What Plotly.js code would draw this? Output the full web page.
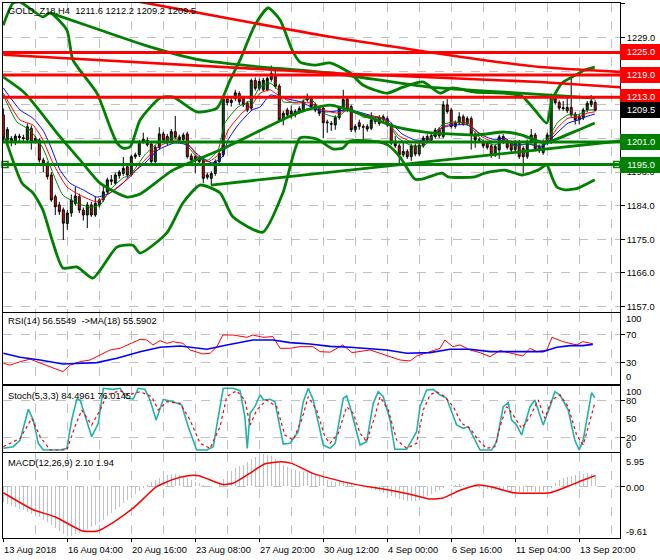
<!DOCTYPE html>
<html><head><meta charset="utf-8">
<script src="https://cdn.plot.ly/plotly-3.0.1.min.js"></script>
<style>html,body{margin:0;padding:0;background:#fff}#c{width:660px;height:560px}</style>
</head><body><div id="c"></div>
<script>
// ---------- DATA ----------
const symbol = 'GOLD_Z18,H4';
const openP = [1208.3,1201.5,1201.2,1201.1,1202.6,1202.2,1201.6,1204.7,1202.0,1201.6,
1196.2,1195.3,1192.2,1186.4,1184.2,1182.9,1179.2,1182.0,1184.6,1186.4,
1182.8,1181.5,1184.2,1181.5,1184.2,1185.5,1187.7,1190.5,1190.0,1192.0,
1192.6,1194.4,1192.2,1197.1,1197.6,1201.1,1201.5,1200.5,1195.8,1199.6,
1203.2,1202.5,1201.1,1203.8,1202.4,1201.7,1203.2,1197.3,1197.1,1196.7,
1196.2,1192.2,1191.3,1192.6,1195.8,1197.6,1212.5,1211.6,1212.7,1214.0,
1212.7,1211.4,1210.1,1217.5,1215.4,1215.0,1215.0,1217.8,1219.0,1216.0,
1207.0,1209.6,1209.3,1208.3,1209.1,1209.6,1212.3,1212.8,1211.0,1210.0,
1210.1,1206.4,1206.0,1205.6,1207.6,1210.0,1212.5,1210.5,1204.3,1206.2,
1205.2,1205.2,1204.7,1207.3,1207.5,1207.0,1207.3,1205.6,1200.9,1200.0,
1197.6,1198.5,1197.1,1200.0,1197.8,1200.0,1202.5,1201.5,1202.5,1204.4,
1202.5,1211.0,1209.6,1205.2,1206.2,1207.8,1206.0,1207.3,1203.2,1201.6,
1201.1,1200.7,1200.0,1197.6,1198.9,1202.5,1201.1,1200.8,1199.0,1201.0,
1199.3,1197.1,1201.1,1202.9,1199.8,1198.2,1200.7,1201.1,1213.2,1211.6,
1210.0,1209.4,1210.3,1208.5,1207.0,1207.5,1209.6,1211.0,1211.6];
const highP = [1210.0,1205.0,1202.6,1203.2,1203.2,1203.0,1206.0,1205.5,1202.6,1202.0,
1196.8,1195.8,1193.0,1187.0,1185.0,1183.5,1182.8,1187.0,1189.0,1187.2,
1183.5,1185.0,1185.0,1186.5,1186.0,1189.0,1191.5,1192.2,1192.8,1193.5,
1197.0,1195.0,1197.6,1198.2,1201.6,1203.5,1202.3,1201.0,1200.2,1205.0,
1203.8,1203.2,1204.5,1208.0,1203.0,1203.5,1203.8,1198.0,1197.6,1197.3,
1196.8,1192.8,1193.2,1196.4,1198.5,1213.0,1213.3,1212.8,1215.0,1214.6,
1213.4,1212.0,1218.0,1218.3,1218.0,1218.2,1218.6,1221.5,1221.0,1216.6,
1209.3,1210.2,1210.8,1209.8,1210.6,1212.4,1214.0,1213.4,1211.6,1210.6,
1210.7,1207.0,1206.6,1208.2,1210.6,1215.0,1213.0,1211.0,1205.8,1207.0,
1205.8,1205.8,1209.0,1208.0,1208.2,1208.4,1207.9,1206.2,1202.6,1200.6,
1201.0,1199.1,1200.6,1200.6,1200.8,1202.7,1203.1,1203.3,1204.8,1205.0,
1212.0,1212.5,1210.2,1206.8,1209.0,1208.4,1207.9,1207.9,1203.8,1202.2,
1201.7,1201.3,1200.6,1200.4,1203.0,1203.1,1201.7,1201.4,1201.6,1201.6,
1199.9,1201.7,1204.5,1203.5,1200.4,1201.7,1203.5,1214.0,1213.8,1212.2,
1212.0,1213.0,1218.2,1209.1,1208.5,1210.2,1212.0,1213.6,1212.2];
const lowP = [1201.0,1200.0,1199.9,1200.2,1201.3,1200.8,1201.0,1199.0,1200.6,1195.5,
1193.0,1191.0,1185.0,1181.5,1181.5,1174.8,1177.5,1181.0,1184.0,1182.0,
1180.0,1178.0,1181.0,1181.0,1183.5,1185.0,1187.0,1189.5,1189.5,1191.2,
1192.0,1191.5,1191.8,1196.5,1197.0,1200.6,1199.8,1195.2,1195.0,1199.0,
1201.0,1200.2,1200.6,1201.8,1201.0,1201.2,1196.6,1195.6,1192.7,1195.2,
1190.0,1191.0,1189.6,1192.0,1195.2,1197.0,1210.8,1210.5,1212.0,1211.0,
1210.4,1209.0,1209.6,1214.8,1214.8,1214.5,1214.6,1217.2,1215.3,1206.4,
1205.5,1207.6,1207.3,1207.6,1208.5,1209.0,1211.8,1210.0,1209.0,1208.0,
1202.0,1203.5,1204.0,1204.3,1207.0,1209.5,1209.0,1203.7,1203.6,1204.3,
1201.6,1203.8,1204.2,1205.8,1205.4,1206.4,1205.0,1200.2,1199.4,1194.8,
1197.0,1196.5,1196.0,1197.2,1197.2,1199.5,1201.0,1201.0,1202.0,1202.1,
1202.0,1208.6,1204.6,1204.6,1205.6,1205.4,1205.4,1199.0,1199.5,1201.0,
1199.4,1199.0,1196.8,1197.0,1196.5,1200.5,1199.0,1198.3,1198.4,1196.5,
1192.6,1196.5,1200.5,1198.5,1198.1,1197.6,1200.1,1200.5,1211.0,1209.5,
1209.4,1208.8,1207.7,1205.7,1205.7,1206.9,1209.0,1210.4,1209.2];
const closeP = [1202.0,1204.4,1202.0,1202.6,1202.2,1202.0,1205.1,1201.1,1201.2,1196.2,
1195.3,1191.8,1185.5,1183.7,1182.4,1179.3,1182.0,1185.5,1186.6,1182.8,
1181.5,1184.2,1181.5,1184.6,1185.5,1187.7,1190.9,1190.9,1192.2,1193.0,
1194.0,1192.2,1197.1,1197.6,1201.1,1201.8,1200.3,1195.8,1199.6,1203.2,
1201.6,1200.8,1203.8,1202.3,1201.6,1202.9,1197.1,1196.2,1196.2,1195.8,
1191.3,1191.6,1192.6,1195.8,1198.0,1212.5,1211.6,1212.2,1214.2,1211.8,
1211.0,1209.6,1217.5,1215.4,1217.2,1217.6,1218.0,1219.4,1215.9,1207.0,
1208.7,1208.3,1208.5,1209.2,1210.0,1211.8,1213.2,1210.5,1209.6,1208.7,
1206.2,1206.2,1205.8,1207.6,1210.1,1212.4,1209.6,1204.3,1205.2,1205.2,
1205.0,1204.5,1206.9,1206.5,1206.0,1207.8,1205.6,1200.7,1200.0,1197.6,
1198.5,1197.1,1200.0,1197.8,1200.2,1202.1,1201.6,1202.7,1204.2,1202.7,
1211.0,1209.2,1205.2,1206.2,1207.8,1206.0,1207.3,1203.2,1201.6,1201.5,
1200.0,1199.6,1197.6,1199.8,1202.4,1201.1,1199.6,1198.9,1201.0,1197.1,
1197.1,1201.1,1202.9,1199.1,1198.7,1201.1,1202.9,1213.6,1211.6,1210.1,
1210.2,1210.3,1208.3,1207.0,1207.9,1209.6,1211.4,1212.0,1209.5];

// thin moving averages (bar position, price)
const maFastX = [0,3.4,6.7,9.9,12.4,14.9,18.4,21.7,24.2,26.7,29.9,31.7,35.4,38.7,42.9,46.2,48.7,51.2,53.7,55.4,58.7,62.2,64.2,66.7,68.7,70,74.2,76.7,79.9,83.4,86.7,89.9,94.2,96.2,98.7,102.2,105.4,109.7,112.9,116.2,119.7,122.9,125.4,127.9,131.2,134.7,136.7,138.7,141.2,143.7,146.2,147.9];
const maFastY = [1213.6,1206.4,1204.2,1199.4,1192.7,1186.8,1184.7,1183.6,1184.2,1188.2,1191.4,1192.2,1197.6,1200.8,1202.1,1199.7,1196.7,1196.2,1198.9,1206.1,1210.4,1212.3,1215.8,1216.8,1215.0,1211.8,1211.8,1212.8,1208.8,1207.7,1210.1,1207.7,1207.4,1206.1,1202.1,1200.0,1200.2,1205.6,1206.4,1205.6,1201.6,1200.2,1201.6,1200.0,1200.5,1200.0,1202.9,1206.4,1208.3,1208.3,1209.6,1209.6];
const maMidX = [0,4.2,7.4,9.9,12.4,15.9,19.2,23.4,25.9,29.2,31.7,35.4,38.7,42.9,46.2,48.7,51.2,53.7,56.2,59.7,62.2,64.2,66.7,68,70,72.4,76.7,79.9,83.4,86.7,89.9,94.2,96.2,98.7,102.2,105.4,109.7,112.9,116.2,119.7,122.9,125.4,127.9,131.2,134.7,136.7,138.7,141.2,143.7,146.2,147.9];
const maMidY = [1214.1,1206.9,1205.6,1201.6,1195.4,1189.0,1186.8,1185.0,1186.8,1189.5,1191.7,1196.2,1199.7,1201.6,1200.5,1197.0,1195.7,1197.6,1204.2,1208.8,1211.0,1214.1,1215.0,1214.1,1212.8,1211.5,1211.5,1209.6,1208.8,1209.6,1208.3,1207.7,1206.4,1202.9,1201.0,1200.8,1205.0,1206.1,1206.1,1202.4,1201.0,1201.6,1201.0,1201.0,1201.0,1202.1,1205.0,1207.4,1207.7,1208.8,1209.1];
const maSlowX = [0,4.2,7.4,9.9,11.7,14.2,16.7,20,23.4,26.7,29.9,31.7,35.4,38.7,42.9,46.2,48.7,52.2,54.7,56.2,58.7,62.2,64.2,66.7,70,74.2,79.9,86.7,94.2,96.2,99.7,102.9,106.2,109.7,112.9,116.2,119.7,122.9,125.4,127.9,131.2,134.7,136.7,138.7,141.2,143.7,146.2,147.9];
const maSlowY = [1215.5,1209.6,1207.4,1204.2,1200.2,1193.5,1190.0,1188.2,1186.3,1187.4,1190.0,1192.2,1195.4,1198.9,1200.8,1200.2,1197.6,1195.4,1197.0,1201.6,1205.6,1209.6,1210.4,1213.6,1212.8,1211.8,1209.1,1209.6,1207.4,1206.9,1203.2,1201.6,1201.6,1204.8,1205.6,1205.6,1202.9,1201.6,1202.1,1200.2,1200.5,1199.7,1201.6,1203.7,1206.1,1206.9,1208.0,1208.5];

// thick bands
const bbUpX = [0,2.4,4.2,9.9,11.7,15.9,17.4,23.4,26.7,28.4,29.9,31.7,34.2,39.2,42.4,48.4,53.4,56.7,59.2,62.9,66.2,69.2,72.2,74.2,77.9,81.7,86.7,89.9,95.9,99.9,104.9,109.2,112.2,117.9,125.4,129.7,132.9,135.9,137.2,139.7,142.2,145.4,147.9];
const bbUpY = [1232.3,1238.2,1238.5,1234.5,1235.6,1231.0,1223.0,1214.1,1205.0,1200.8,1199.4,1199.7,1206.9,1212.8,1213.1,1209.1,1210.1,1217.6,1223.0,1232.3,1236.9,1233.7,1225.7,1222.4,1221.6,1222.2,1219.5,1216.3,1214.1,1215.7,1217.1,1214.1,1215.5,1214.4,1214.1,1213.3,1209.6,1206.1,1212.3,1216.8,1218.4,1220.3,1221.1];
const bbMidX = [0,5.4,14.2,19.2,24.2,30.9,34.2,42.4,54.2,65.9,74.2,81.7,89.9,98.4,105.4,117.9,125.4,129.7,135.4,139.7,143.7,147.9];
const bbMidY = [1218.4,1214.1,1202.4,1196.2,1190.0,1186.3,1187.1,1193.5,1198.9,1205.0,1209.1,1210.9,1208.3,1205.0,1203.7,1202.9,1203.7,1202.9,1200.8,1202.4,1204.2,1206.1];
const bbLowX = [0.5,4.7,7.4,9.9,12.2,14.9,18.4,22.4,28.4,32.4,34.2,40.9,44.9,49.2,54.2,57.4,64.9,69.9,74.2,78.4,82.4,84.9,86.7,94.2,96.2,99.2,102.9,104.7,109.7,111.2,117.9,120.4,125.4,129.7,133.7,135.9,137.2,138.4,140.4,143.7,147.9];
const bbLowY = [1202.0,1190.0,1187.4,1182.8,1174.8,1167.3,1167.6,1164.6,1172.9,1173.4,1171.3,1176.7,1184.7,1189.5,1187.4,1181.0,1176.9,1187.4,1202.1,1201.8,1199.2,1199.4,1201.3,1201.0,1200.2,1197.0,1191.1,1191.1,1192.7,1191.7,1191.7,1192.7,1193.5,1192.2,1193.5,1194.9,1191.6,1189.0,1188.2,1188.7,1190.9];
const longMaX = [11.7,24.2,36.7,49.2,61.7,81.7,106.7,129.2,148];
const longMaY = [1235.6,1231.0,1226.5,1223.0,1221.4,1219.5,1215.7,1214.1,1212.8];

// drawn objects
const redLineAX = [32.9,81.7,119.9,134.2,154.2];
const redLineAY = [1238.8,1229.2,1223.0,1221.1,1219.8];
const redLineBX = [0,23.4,81.7,134.2,154.2];
const redLineBY = [1224.4,1223.0,1219.5,1217.1,1215.7];
const trendX = [51.9,154.2];
const trendY = [1189.5,1201.3];
const resistLevels = [1225.0,1219.0,1213.0];
const supportLevels = [1201.0,1195.0];
const bidPrice = 1209.5;

// RSI(14) and its MA(18)
const rsiX = [0,1.7,4.2,6.7,9.2,11.7,14.9,16.7,19.2,21.7,24.2,26.7,29.2,31.7,34.2,35.9,37.4,39.2,40.9,42.4,44.9,46.7,49.9,51.7,53.4,54.9,57.4,60.9,62.4,64.9,67.4,69.2,71.7,74.2,77.4,79.2,81.7,84.9,87.2,91.7,96.7,99.2,101.7,103.4,106.7,109.2,110.4,112.4,114.2,116.7,119.2,121.7,124.2,126.7,129.9,131.7,133.4,135.9,137.2,139.9,143.4,144.9,147.4];
const rsiY = [28.6,26,30.9,34.5,29,23.8,16.7,26,30.9,33.3,40.5,47.6,50,57,62.9,61.9,54.8,60.9,57.1,59.5,57.1,47.6,41.9,42.9,52.4,69,69,65.7,69,65.7,66.7,50,50,52.4,52.4,45.2,44.5,54.8,43.8,47.6,38.1,33.3,31.9,39,45.2,50,61.9,52.4,54.8,47.6,43.8,38.1,46.7,43.8,39,50,45.2,47.6,65.7,59.5,54.8,59.5,56.55];
const rsiMaX = [0,4.2,9.2,14.9,23.4,28.4,34.2,39.2,44.2,50.9,55.9,62.4,67.4,71.7,76.7,81.7,86.7,95.9,100.9,106.7,111.7,116.7,121.7,126.7,131.7,134.9,138.4,141.7,144.9,147.4];
const rsiMaY = [42.9,37.1,33.3,27.6,29.5,35.7,45.2,51.4,53.3,48.6,54.8,61.9,61.9,58.1,56.2,52.8,51.4,47.6,42.9,43.8,48.6,48.6,45.2,45.2,45.2,45.2,51.4,53.8,53.8,55.59];

// Stochastic(5,3,3)
const stochKX = [0,2.5,4.2,6.25,7.5,8.75,10,14.2,15.9,17.1,18.35,19.2,22.1,23.75,25,27.5,29.2,30.85,32.5,33.75,35.4,36.7,38.2,40,42.5,44.6,46.25,48.35,50.85,52.5,53.75,55,57.5,59.2,60.4,61,61.7,62.9,64.2,65.1,66.7,67.9,70,71.7,73.75,75,76.25,77.5,80,81.7,83,85,85.85,86.7,89.2,90.85,92.5,93.75,95,96.7,97.9,100.85,103.35,104.2,105.85,107.5,109.2,110.85,113.35,115,116.25,119.2,122.1,123.35,125,126.25,127.1,128.35,129.6,131.7,132.9,135,136.7,137.9,139.2,141.25,142.9,144,145,146.25,147.1,147.9];
const stochKY = [2.7,5.4,16.2,65.9,48.6,10.8,0,0,2.7,48.6,82,81,21.6,43.2,100,98.3,100,83.7,82.7,100,98.3,81,48.6,82,78.3,72.9,37.8,0,0,5.4,54,100,100,96.2,54,2.7,59.4,70.2,89.1,81,82,78.3,9.7,10.8,29.7,78.3,100,81,8.1,2.7,10.8,83.7,87.5,70.2,8.1,13.5,75.6,94.5,86.4,48.6,1.1,1.1,29.7,70.2,97.2,98.3,89.1,83.7,40.5,35.1,37.8,0,0,13.5,70.2,76.7,48.6,40.5,24.3,70.2,81,40.5,70.2,94.5,89.1,64.8,16.2,0,16.2,64.8,92.9,84.5];
const stochDX = [0,4.2,7.1,9.2,11.7,15.9,17.9,19.6,22.1,24.2,25.85,29.2,31.25,34.2,37.1,38.75,40.85,44.2,46.7,49.2,51.7,54.2,55.85,58.35,60.4,61.7,63.35,65.85,68.35,70.4,72.5,74.6,76.25,78.35,80.4,81.7,83.75,85.85,87.5,89.2,90.85,92.9,94.2,96.25,98.35,100.85,103.35,105,106.7,108.35,110.4,112.5,114.6,116.7,118.75,120.85,122.9,124.2,125.85,127.5,129.6,131.7,133.75,135.4,137.1,139.2,141.25,143.35,145,146.7,147.9];
const stochDY = [5.4,18.9,51.3,21.6,0,0,37.8,64.8,40.5,64.8,89.1,96.2,89.1,94.5,86.4,64.8,78.3,75.6,48.6,10.8,2.7,37.8,86.4,96.2,81,40.5,64.8,81,70.2,24.3,16.2,48.6,86.4,64.8,21.6,10.8,27,70.2,59.4,27,13.5,54,86.4,64.8,16.2,2.7,10.8,64.8,89.1,94.5,86.4,70.2,43.2,35.1,16.2,2.7,5.4,37.8,70.2,56.7,35.1,54,81,51.3,81,89.1,70.2,24.3,8.1,48.6,76.0];

// MACD(12,26,9): main (histogram, one per bar) and signal line
const macdMain = [-3.0,-3.3,-3.6,-3.9,-4.2,-4.5,-4.8,-5.1,-5.4,-5.8,-6.2,-6.7,-7.2,-7.8,-8.4,-8.9,-9.3,
-9.2,-8.9,-8.6,-8.3,-8.0,-7.6,-7.2,-6.7,-6.2,-5.6,-5.0,-4.4,-3.8,-3.2,-2.6,-2.0,-1.4,-0.9,-0.3,
0.3,0.8,1.2,1.6,1.9,2.1,2.2,2.3,2.1,1.8,1.5,1.1,0.8,0.5,0.2,0.0,-0.1,0.1,0.6,
1.3,2.2,2.8,3.3,3.7,4.0,4.4,5.0,5.4,5.7,5.9,5.8,5.5,5.1,4.4,3.9,3.5,3.2,
3.0,2.8,2.7,2.6,2.5,2.3,2.0,1.6,1.2,0.9,0.8,0.9,1.0,0.8,0.5,0.2,0.0,-0.1,
-0.3,-0.5,-0.7,-0.9,-1.2,-1.5,-1.8,-2.1,-2.4,-2.6,-2.7,-2.8,-2.7,-2.5,-2.2,-1.9,-1.5,-1.1,-0.7,-0.3,
0.0,0.2,0.3,0.4,0.3,0.2,0.0,-0.1,-0.3,-0.4,-0.6,-0.7,
-0.8,-0.8,-0.7,-0.8,-0.9,-0.9,-1.0,-1.1,-1.0,-0.9,-1.0,-1.0,-0.9,-0.7,-0.3,
0.6,1.2,1.5,1.7,1.9,2.0,2.1,2.3,2.4,2.3,2.1];
const macdSigX = [0,7.6,12.9,19.8,23.5,27.7,32.9,38.3,42.5,46.2,48.9,54.7,57.4,61.6,65.3,69.5,72.1,77.4,81.7,88,96.4,101.7,106.5,109.7,114.4,118.7,121.9,127.7,136.7,140.9,145.1,148];
const macdSigY = [-1.22,-4.43,-5.67,-8.32,-8.32,-6.6,-3.8,-0.11,1.26,1.93,1.93,0.33,0.52,2.37,4.09,4.52,4.22,2.37,1.44,0.33,-0.72,-1.52,-2.39,-2.26,-0.72,0.2,-0.11,-1.22,-1.22,-0.11,1.13,1.94];

// indicator read-outs and axis labels
const rsiLabel = 'RSI(14) 56.5549\u00a0 ->MA(18) 55.5902';
const stochLabel = 'Stoch(5,3,3) 84.4961 76.0145';
const macdLabel = 'MACD(12,26,9) 2.10 1.94';
const dateLabels = ['13 Aug 2018','16 Aug 04:00','20 Aug 16:00','23 Aug 08:00','27 Aug 20:00','30 Aug 12:00','4 Sep 00:00','6 Sep 16:00','11 Sep 04:00','13 Sep 20:00'];
const dateBars = [0,16,32,48,64,80,96,112,128,144];
const rsiLevels = [100,70,30,0];
const stochLevels = [100,80,50,20,0];
const macdLabels = ['5.95','0.00','-9.61'];

// ---------- LAYOUT HELPERS ----------
const L=3, R=620, T=3, B=538;
const px = x => (x-L)/(R-L);
const py = y => (B-y)/(B-T);
const bars = openP.map((_, i) => i);
const FONT = 'Liberation Sans, Arial, sans-serif';
const f = (s, c) => ({family: FONT, size: s || 9.3, color: c || '#000'});
const GRID = '#c0c0c0';
const XR = [-0.08, 154.2];

function ln(x, y, color, width, xa, ya, dash, smooth) {
  const line = {color:color, width:width, dash:dash||'solid'};
  if (smooth) { line.shape = 'spline'; line.smoothing = smooth; }
  return {type:'scatter', mode:'lines', x:x, y:y, xaxis:xa||'x', yaxis:ya||'y',
    line:line, hoverinfo:'skip', showlegend:false};
}

const traces = [
  {type:'candlestick', x:bars, open:openP, high:highP, low:lowP, close:closeP,
   xaxis:'x', yaxis:'y', whiskerwidth:0, hoverinfo:'skip', showlegend:false,
   increasing:{line:{color:'#000', width:1}, fillcolor:'#006400'},
   decreasing:{line:{color:'#000', width:1}, fillcolor:'#ff0000'}},
  ln(maSlowX, maSlowY, '#0000ff', 1, 'x', 'y', null, 0.5),
  ln(maMidX, maMidY, '#ff0000', 1, 'x', 'y', null, 0.5),
  ln(maFastX, maFastY, '#008000', 1, 'x', 'y', null, 0.5),
  ln(bbUpX, bbUpY, '#008000', 2.8, 'x', 'y', null, 0.6),
  ln(bbMidX, bbMidY, '#008000', 2.8, 'x', 'y', null, 0.6),
  ln(bbLowX, bbLowY, '#008000', 2.8, 'x', 'y', null, 0.6),
  ln(longMaX, longMaY, '#008000', 2.8, 'x', 'y', null, 0.6),
  ln(redLineAX, redLineAY, '#ff0000', 2.6, 'x', 'y', null, 0.6),
  ln(redLineBX, redLineBY, '#ff0000', 2.6),
  ln(trendX, trendY, '#008000', 2.8),
  {type:'scatter', mode:'markers', x:[XR[0]+0.5, XR[1]-0.8], y:[supportLevels[1], supportLevels[1]],
   xaxis:'x', yaxis:'y', marker:{symbol:'square-open', size:6, color:'#008000', line:{width:1.5, color:'#008000'}},
   hoverinfo:'skip', showlegend:false, cliponaxis:false},
  ln(rsiX, rsiY, '#ff0000', 1, 'x2', 'y2'),
  ln(rsiMaX, rsiMaY, '#0000ff', 1.6, 'x2', 'y2'),
  ln(stochKX, stochKY, '#20b2aa', 1.6, 'x3', 'y3'),
  ln(stochDX, stochDY, '#ff0000', 1.2, 'x3', 'y3', '3px,3px'),
  {type:'bar', x:bars, y:macdMain, xaxis:'x4', yaxis:'y4', width:0.28,
   marker:{color:'#c0c0c0', line:{width:0}}, hoverinfo:'skip', showlegend:false},
  ln(macdSigX, macdSigY, '#ff0000', 1.5, 'x4', 'y4', null, 0.5)
];

function xax(anchor, bottom) {
  return {anchor:anchor, domain:[0,1], range:XR,
    tickvals:dateBars, showticklabels:false, ticks: bottom ? 'outside' : '', ticklen:3, tickcolor:'#000',
    showgrid:true, gridcolor:GRID, griddash:'dash', gridwidth:1,
    minor:{tick0:0, dtick:8, showgrid:true, gridcolor:GRID, griddash:'dash', gridwidth:1, ticks:''},
    showline:true, mirror:true, linecolor:'#000', linewidth:1, zeroline:false, fixedrange:true,
    rangeslider:{visible:false}};
}
function yax(anchor, dom, range, extra) {
  return Object.assign({anchor:anchor, domain:dom, range:range, side:'right',
    showline:true, mirror:true, linecolor:'#000', linewidth:1, zeroline:false,
    showgrid:true, gridcolor:GRID, griddash:'dash', gridwidth:1,
    ticks:'outside', ticklen:4, tickcolor:'#000', tickfont:f(), fixedrange:true}, extra||{});
}

const layout = {
  width:660, height:560, margin:{l:L, r:660-R, t:T, b:560-B},
  paper_bgcolor:'#fff', plot_bgcolor:'#fff', showlegend:false, bargap:0,
  xaxis: xax('y'),
  xaxis2: Object.assign(xax('y2'), {matches:'x'}),
  xaxis3: Object.assign(xax('y3'), {matches:'x'}),
  xaxis4: Object.assign(xax('y4', true), {matches:'x'}),
  yaxis: yax('x', [py(311.5), 1], [1155.66, 1238.24], {tick0:1157, dtick:9, tickformat:'.1f'}),
  yaxis2: yax('x2', [py(383.5), py(313)], [-0.29, 100.43], {tickvals:[70,30], showticklabels:false}),
  yaxis3: yax('x3', [py(451.5), py(386)], [-2.43, 103.7], {tickvals:[80,20], showticklabels:false}),
  yaxis4: yax('x4', [0, py(453)], [-9.61, 6.14], {tickvals:[0], showticklabels:false}),
  shapes: [], annotations: []
};

resistLevels.forEach(v => layout.shapes.push({type:'line', xref:'x domain', yref:'y', x0:0, x1:1, y0:v, y1:v,
  line:{color:'#ff0000', width:3}, layer:'above'}));
supportLevels.forEach(v => layout.shapes.push({type:'line', xref:'x domain', yref:'y', x0:0, x1:1, y0:v, y1:v,
  line:{color:'#008000', width:3}, layer:'above'}));
layout.shapes.unshift({type:'line', xref:'x domain', yref:'y', x0:0, x1:1, y0:bidPrice, y1:bidPrice,
  line:{color:'#c0c0c0', width:1}, layer:'below'});

const A = layout.annotations;
function note(text, x, y, opts) {
  A.push(Object.assign({text:text, x:x, y:y, xref:'paper', yref:'paper', showarrow:false,
    xanchor:'left', yanchor:'middle', font:f()}, opts||{}));
}
const last = openP.length - 1;
note(symbol + '\u00a0\u00a0' + [openP[last], highP[last], lowP[last], closeP[last]].map(v => v.toFixed(1)).join(' '), px(6), py(11));
note(rsiLabel, px(6), py(321));
note(stochLabel, px(6), py(396));
note(macdLabel, px(6), py(463));

// right-side price boxes
resistLevels.forEach(v => note(v.toFixed(1), 1, v, {yref:'y', bgcolor:'#ff0000', bordercolor:'#ff0000',
  font:f(9.3,'#fff'), width:38, height:12, borderpad:1, align:'center'}));
supportLevels.forEach(v => note(v.toFixed(1), 1, v, {yref:'y', bgcolor:'#008000', bordercolor:'#008000',
  font:f(9.3,'#fff'), width:38, height:12, borderpad:1, align:'center'}));
note(bidPrice.toFixed(1), 1, bidPrice, {yref:'y', bgcolor:'#000', bordercolor:'#000',
  font:f(9.3,'#fff'), width:38, height:12, borderpad:1, align:'center'});

// sub-window scale labels (pixel rows of the labels)
const rsiLabelRows = [319, 334.5, 362.5, 377];
rsiLevels.forEach((v, i) => note(String(v), px(624), py(rsiLabelRows[i])));
const stochLabelRows = [392, 400.5, 419.2, 437.7, 444.5];
stochLevels.forEach((v, i) => note(String(v), px(624), py(stochLabelRows[i])));
const macdLabelRows = [462, 487.5, 532];
macdLabels.forEach((t, i) => note(t, px(624), py(macdLabelRows[i])));

// date labels
dateLabels.forEach((t, i) => note(t, dateBars[i], py(549.5), {xref:'x4', xshift:-1}));

Plotly.newPlot('c', traces, layout, {staticPlot:true, displayModeBar:false});
</script>
</body></html>
